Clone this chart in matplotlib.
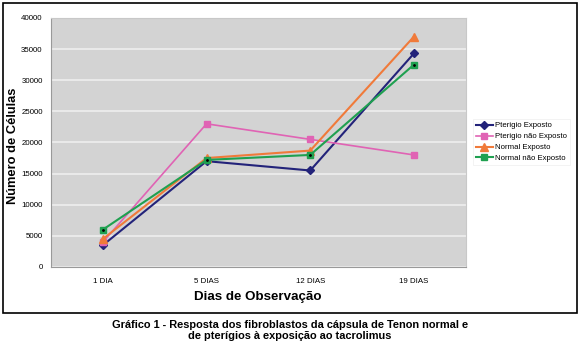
import matplotlib.pyplot as plt
from matplotlib.patches import Rectangle

plt.rcParams["font.family"] = ["Liberation Sans", "DejaVu Sans"]

# dados
dias = ["1 DIA", "5 DIAS", "12 DIAS", "19 DIAS"]
pterigio_exposto = [3500, 17000, 15500, 34300]
pterigio_nao_exposto = [4000, 23000, 20500, 18000]
normal_exposto = [4500, 17500, 18700, 37000]
normal_nao_exposto = [6000, 17200, 18000, 32500]

fig = plt.figure(figsize=(5.8, 3.43), dpi=100)
ax = fig.add_axes([0.088, 0.2216, 0.715, 0.726])
ax.set_facecolor("#d3d3d3")

x = range(len(dias))
ax.plot(x, pterigio_exposto, color="#23237a", marker="D", ms=4, lw=1.5, label="Pterigio Exposto")
ax.plot(x, pterigio_nao_exposto, color="#e063b4", marker="s", ms=5, lw=1.2, label="Pterigio não Exposto")
ax.plot(x, normal_exposto, color="#f07a3a", marker="^", ms=6, lw=1.5, label="Normal Exposto")
ax.plot(x, normal_nao_exposto, color="#1fa050", marker="s", ms=5, lw=1.5, label="Normal não Exposto")
ax.plot(x, normal_nao_exposto, ls="none", marker=".", ms=2, color="black")

ax.set_xlim(-0.5, 3.5)
ax.set_ylim(0, 40000)
ax.set_xticks(list(x))
ax.set_xticklabels(dias, fontsize=5.7)
ax.set_yticks(range(0, 40001, 5000))
ax.tick_params(axis="y", labelsize=5.7, length=0, pad=6)
ax.tick_params(axis="x", length=0, pad=8)
ax.grid(axis="y", color="#eeeeee", lw=1.2)
ax.set_axisbelow(True)
for s in ["top", "right"]:
    ax.spines[s].set_color("#c8c8c8")
for s in ["left", "bottom"]:
    ax.spines[s].set_color("#999999")

fig.text(258 / 580, 1 - 297 / 343, "Dias de Observação", ha="center", va="center",
         fontsize=9.6, fontweight="bold")
fig.text(13 / 580, 1 - 146 / 343, "Número de Células", rotation=90, ha="center", va="center",
         fontsize=9.3, fontweight="bold")

handles, labels = ax.get_legend_handles_labels()
leg = fig.legend(handles[:4], labels[:4], loc="upper left", bbox_to_anchor=(0.808, 0.665),
                 fontsize=5.6, frameon=True, fancybox=False, handlelength=2.2,
                 borderpad=0.4, labelspacing=0.45, handletextpad=0.3)
leg.get_frame().set_edgecolor("#eeeeee")
leg.get_frame().set_linewidth(0.6)

fig.patches.append(Rectangle((3 / 580, 1 - 313 / 343), 574 / 580, 310 / 343,
                             transform=fig.transFigure, fill=False, edgecolor="black", lw=1.2))

fig.text(0.5, 1 - 325 / 343, "Gráfico 1 - Resposta dos fibroblastos da cápsula de Tenon normal e",
         ha="center", va="center", fontsize=7.9, fontweight="bold")
fig.text(0.5, 1 - 336 / 343, "de pterígios à exposição ao tacrolimus",
         ha="center", va="center", fontsize=7.9, fontweight="bold")

fig.savefig("out.png", dpi=100)
